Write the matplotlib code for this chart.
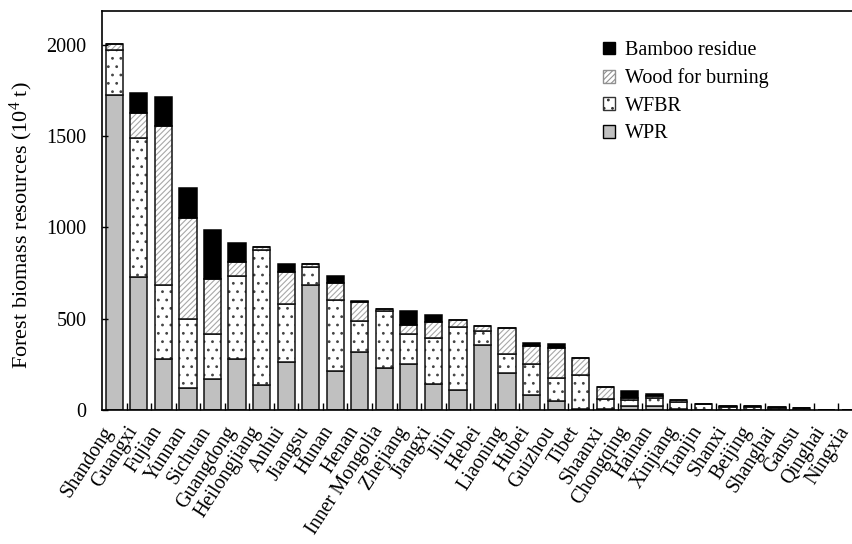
import matplotlib
matplotlib.use("Agg")
import matplotlib.pyplot as plt
import matplotlib.transforms as mtransforms
import numpy as np
from matplotlib.patches import Patch

plt.rcParams['font.family'] = ['Liberation Serif', 'DejaVu Serif']
plt.rcParams['mathtext.fontset'] = 'custom'
plt.rcParams['mathtext.rm'] = 'Liberation Serif'
plt.rcParams['hatch.linewidth'] = 0.8

provinces = ["Shandong", "Guangxi", "Fujian", "Yunnan", "Sichuan", "Guangdong",
             "Heilongjiang", "Anhui", "Jiangsu", "Hunan", "Henan", "Inner Mongolia",
             "Zhejiang", "Jiangxi", "Jilin", "Hebei", "Liaoning", "Hubei", "Guizhou",
             "Tibet", "Shaanxi", "Chongqing", "Hainan", "Xinjiang", "Tianjin",
             "Shanxi", "Beijing", "Shanghai", "Gansu", "Qinghai", "Ningxia"]
wpr = [1725, 728, 282, 119, 168, 282, 137, 262, 685, 214, 318, 229, 251, 143, 108,
       355, 205, 82, 51, 5, 8, 22, 22, 3, 2, 2, 2, 1, 1, 0, 0]
wfbr = [244, 764, 403, 379, 249, 450, 741, 316, 98, 390, 172, 311, 166, 254, 344,
        80, 102, 169, 123, 187, 54, 31, 46, 41, 29, 14, 16, 12, 9, 0, 0]
wood = [33, 135, 872, 554, 300, 80, 15, 176, 17, 91, 102, 11, 50, 86, 40, 26, 141,
        100, 166, 92, 63, 15, 7, 11, 3, 4, 4, 3, 1, 0, 0]
bamboo = [0, 109, 158, 161, 266, 105, 0, 48, 0, 37, 5, 0, 77, 35, 0, 0, 0, 17, 19,
          0, 0, 36, 13, 0, 1, 2, 0, 0, 0, 0, 0]

fig = plt.figure(figsize=(8.53, 5.44), dpi=100)
W, H = 853.0, 544.0
left_px, right_px, top_px, bot_px = 102, 863, 11, 410
ax = fig.add_axes([left_px / W, 1 - bot_px / H, (right_px - left_px) / W, (bot_px - top_px) / H])

x = np.arange(len(provinces))
bw = 0.7
wpr_a = np.array(wpr, float)
wfbr_a = np.array(wfbr, float)
wood_a = np.array(wood, float)
bam_a = np.array(bamboo, float)

# WPR
ax.bar(x, wpr_a, bw, color='#c0c0c0', edgecolor='#111111', linewidth=1.1)
# WFBR dotted
b1 = wpr_a
ax.bar(x, wfbr_a, bw, bottom=b1, color='white', edgecolor='#444444', hatch='..', linewidth=0)
ax.bar(x, wfbr_a, bw, bottom=b1, fill=False, edgecolor='#111111', linewidth=1.1)
# Wood hatched
b2 = b1 + wfbr_a
ax.bar(x, wood_a, bw, bottom=b2, color='white', edgecolor='#a8a8a8', hatch='//////', linewidth=0)
ax.bar(x, wood_a, bw, bottom=b2, fill=False, edgecolor='#111111', linewidth=1.1)
# Bamboo black
b3 = b2 + wood_a
ax.bar(x, bam_a, bw, bottom=b3, color='black', edgecolor='black', linewidth=1.1)

ax.set_xlim(-0.5, len(provinces) - 0.5)
ax.set_ylim(0, 2185)
ax.set_yticks([0, 500, 1000, 1500, 2000])
ax.tick_params(axis='y', direction='in', length=4, labelsize=14.5, width=1, pad=11)
ax.set_xticks(x)
ax.set_xticklabels(provinces, rotation=57, ha='right', va='center',
                   rotation_mode='anchor', fontsize=14.5)
ax.tick_params(axis='x', which='major', length=0, pad=13)
ax.set_xticks(x[:-1] + 0.5, minor=True)
ax.tick_params(axis='x', which='minor', direction='in', length=5, width=1)
shift = mtransforms.ScaledTranslation(-5 / 100, 0, fig.dpi_scale_trans)
for lab in ax.get_xticklabels():
    lab.set_transform(lab.get_transform() + shift)
for s in ax.spines.values():
    s.set_linewidth(1.2)

ax.set_ylabel(r"Forest biomass resources (10$\mathregular{^4}$ t)", fontsize=16)
ax.yaxis.set_label_coords((35 - left_px) / (right_px - left_px), (bot_px - 225) / (bot_px - top_px))

handles = [Patch(facecolor='black', edgecolor='black', label='Bamboo residue'),
           Patch(facecolor='white', edgecolor='#909090', hatch='//////', label='Wood for burning'),
           Patch(facecolor='white', edgecolor='#333333', hatch='..', label='WFBR'),
           Patch(facecolor='#c0c0c0', edgecolor='black', label='WPR')]
leg = ax.legend(handles=handles, loc='upper left',
                bbox_to_anchor=((595 - left_px) / (right_px - left_px), 1 - (33 - top_px) / (bot_px - top_px)),
                frameon=False, fontsize=14.5, handlelength=0.6, handleheight=0.6,
                handletextpad=0.5, labelspacing=0.42, borderaxespad=0)

fig.savefig("out.png", dpi=100)
